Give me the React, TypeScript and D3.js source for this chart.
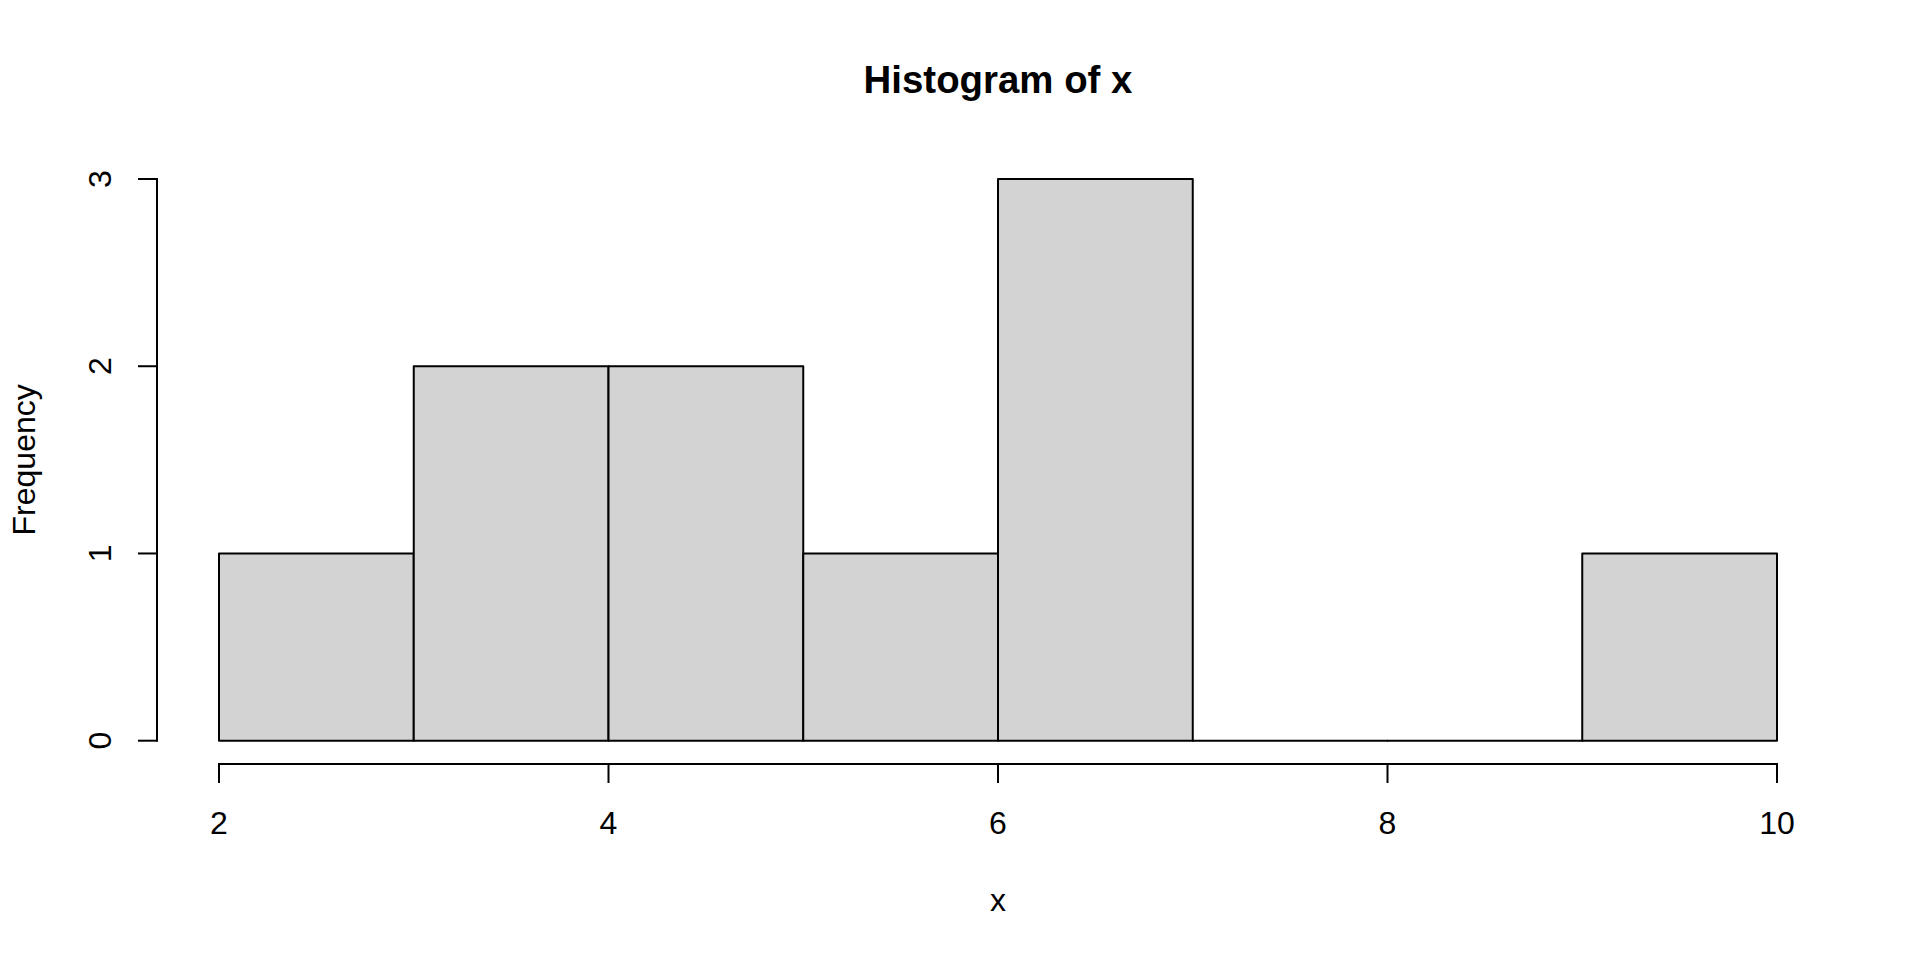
import React from "react";
import * as d3 from "d3";

const binStarts: number[] = [2, 3, 4, 5, 6, 7, 8, 9];
const binWidth = 1;
const counts: number[] = [1, 2, 2, 1, 3, 0, 0, 1];
const xTicks: number[] = [2, 4, 6, 8, 10];
const yTicks: number[] = [0, 1, 2, 3];
const title = "Histogram of x";
const xLabel = "x";
const yLabel = "Frequency";

const W = 1920;
const H = 960;
const FONT = "'Liberation Sans', Arial, Helvetica, sans-serif";
const LW = 2;
const FS = 32;

export default function App() {
  const x = d3.scaleLinear().domain([2, 10]).range([219, 1777]);
  const y = d3.scaleLinear().domain([0, 3]).range([740.7, 179]);
  const xAxisY = 764;
  const yAxisX = 157;
  const tickLen = 19;

  const barPath = (b: number, c: number) => {
    const p = d3.path();
    p.moveTo(x(b), y(0));
    p.lineTo(x(b), y(c));
    p.lineTo(x(b + binWidth), y(c));
    p.lineTo(x(b + binWidth), y(0));
    p.closePath();
    return p.toString();
  };

  return (
    <svg
      width={W}
      height={H}
      style={{ position: "absolute", left: 0, top: 0, display: "block", background: "#ffffff" }}
      fontFamily={FONT}
    >
      <rect x={0} y={0} width={W} height={H} fill="#ffffff" />
      {binStarts.map((b, i) => (
        <path
          key={i}
          d={barPath(b, counts[i])}
          fill="#d3d3d3"
          stroke="#000"
          strokeWidth={LW}
          strokeLinejoin="round"
        />
      ))}
      {/* x axis */}
      <line x1={x(xTicks[0])} x2={x(xTicks[xTicks.length - 1])} y1={xAxisY} y2={xAxisY} stroke="#000" strokeWidth={LW} strokeLinecap="square" />
      {xTicks.map((t) => (
        <g key={t}>
          <line x1={x(t)} x2={x(t)} y1={xAxisY} y2={xAxisY + tickLen} stroke="#000" strokeWidth={LW} />
          <text x={x(t)} y={834} fontSize={FS} textAnchor="middle" fill="#000">
            {t}
          </text>
        </g>
      ))}
      {/* y axis */}
      <line x1={yAxisX} x2={yAxisX} y1={y(yTicks[0])} y2={y(yTicks[yTicks.length - 1])} stroke="#000" strokeWidth={LW} strokeLinecap="square" />
      {yTicks.map((t) => (
        <g key={t}>
          <line x1={yAxisX} x2={yAxisX - tickLen} y1={y(t)} y2={y(t)} stroke="#000" strokeWidth={LW} />
          <text
            transform={`translate(111,${y(t)}) rotate(-90)`}
            fontSize={FS}
            textAnchor="middle"
            fill="#000"
          >
            {t}
          </text>
        </g>
      ))}
      {/* labels */}
      <text x={(x(2) + x(10)) / 2} y={93} fontSize={FS * 1.2} fontWeight="bold" textAnchor="middle" fill="#000">
        {title}
      </text>
      <text x={(x(2) + x(10)) / 2} y={911} fontSize={FS} textAnchor="middle" fill="#000">
        {xLabel}
      </text>
      <text
        transform={`translate(35,${(y(0) + y(3)) / 2}) rotate(-90)`}
        fontSize={FS}
        textAnchor="middle"
        fill="#000"
      >
        {yLabel}
      </text>
    </svg>
  );
}
